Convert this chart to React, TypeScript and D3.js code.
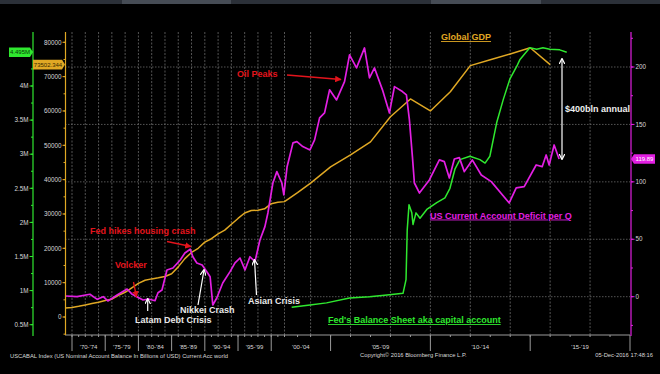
import React from 'react';
import { scaleLinear, line, range } from 'd3';

// Global GDP (bn USD), annual
const gdpYears = [1969, 1970, 1971, 1972, 1973, 1974, 1975, 1976, 1977, 1978, 1979, 1980, 1981, 1982, 1983, 1984, 1985, 1986, 1987, 1988, 1989, 1990, 1991, 1992, 1993, 1994, 1995, 1996, 1997, 1998, 1999, 2000, 2001, 2002, 2003, 2004, 2005, 2006, 2007, 2008, 2009, 2010, 2011, 2012, 2013, 2014, 2015, 2016]
const gdpValues = [2600, 2800, 3100, 3500, 3900, 4300, 4800, 5200, 6300, 7200, 8500, 9800, 10700, 11100, 11400, 11800, 12600, 14600, 17000, 18800, 20000, 21800, 22800, 24200, 25300, 27000, 28700, 30300, 31000, 31100, 31500, 33000, 33400, 33600, 36200, 39000, 43700, 47200, 51000, 58300, 63500, 60000, 65600, 73200, 74900, 76600, 78400, 73502]

// US current account deficit per quarter (bn USD)
const cadDates = [1969.1, 1970.75, 1972.7, 1973.8, 1974.7, 1975.4, 1976.8, 1978.3, 1979.0, 1979.9, 1980.7, 1981.5, 1982.5, 1982.95, 1983.55, 1984.3, 1985.2, 1986.3, 1987.0, 1987.8, 1988.2, 1988.8, 1989.6, 1990.3, 1990.8, 1991.2, 1991.8, 1992.7, 1993.8, 1994.55, 1995.3, 1996.05, 1996.8, 1997.55, 1998.3, 1999.05, 1999.5, 2000.25, 2000.85, 2001.6, 2001.9, 2002.2, 2002.65, 2002.95, 2003.4, 2003.95, 2004.2, 2004.45, 2004.7, 2004.95, 2005.3, 2005.7, 2005.95, 2006.3, 2006.7, 2006.95, 2007.2, 2007.6, 2007.95, 2008.2, 2008.6, 2008.8, 2008.95, 2009.1, 2009.2, 2009.45, 2009.95, 2010.45, 2010.7, 2010.95, 2011.2, 2011.45, 2011.7, 2012.1, 2012.55, 2013.05, 2013.95, 2014.3, 2014.7, 2015.3, 2015.6, 2015.8, 2015.95, 2016.2, 2016.45]
const cadValues = [0.6, 0, 2.1, -2.3, 0, -3.7, 1.5, 6.7, 2.4, -0.5, -2.9, -2.0, -3.5, 3.5, 5.8, 23.3, 25.0, 32.0, 38.1, 41.3, 34.8, 29.4, 27.6, 21.8, 17.4, -7.2, -1.1, 11.9, 21.8, 29.4, 33.7, 23.3, 34.8, 30.5, 49.4, 61.0, 72.9, 99.0, 108.9, 99.0, 88.6, 113.2, 133.9, 135.0, 130.7, 127.8, 136.5, 155.7, 160.0, 180.1, 171.3, 187.3, 210.5, 199.2, 216.6, 190.5, 199.2, 180.1, 160.0, 182.9, 178.6, 175.7, 153.9, 122.0, 99.0, 90.3, 101.7, 119.1, 117.6, 103.4, 119.9, 121.1, 108.9, 119.1, 106.0, 100.2, 81.6, 94.7, 95.8, 114.7, 113.2, 123.4, 114.7, 132.1, 119.89]

// Fed balance sheet (M of USD, i.e. trillions)
const fedDates = [2002.55, 2003.95, 2004.8, 2005.95, 2006.95, 2007.95, 2008.63, 2008.78, 2008.84, 2008.93, 2009.07, 2009.13, 2009.28, 2009.48, 2009.82, 2010.32, 2010.73, 2010.98, 2011.23, 2011.48, 2011.98, 2012.48, 2012.74, 2012.98, 2013.32, 2013.65, 2013.98, 2014.33, 2014.49, 2014.98, 2015.33, 2015.64, 2015.98, 2016.48, 2016.83]
const fedValues = [0.756, 0.79, 0.82, 0.89, 0.91, 0.94, 0.96, 1.16, 1.89, 2.26, 2.14, 1.97, 2.14, 2.06, 2.19, 2.29, 2.36, 2.5, 2.78, 2.92, 2.97, 2.92, 2.87, 2.97, 3.46, 3.8, 4.1, 4.29, 4.39, 4.56, 4.54, 4.56, 4.54, 4.53, 4.495]

const periodLabels = ["'70-'74", "'75-'79", "'80-'84", "'85-'89", "'90-'94", "'95-'99", "'00-'04", "'05-'09", "'10-'14", "'15-'19"]
const periodStarts = [1970, 1975, 1980, 1985, 1990, 1995, 2000, 2005, 2010, 2015]
const gdpTicks = [0, 10000, 20000, 30000, 40000, 50000, 60000, 70000, 80000]
const fedTicks = [0.5, 1, 1.5, 2, 2.5, 3, 3.5, 4]
const fedTickLabels = ['0.5M', '1M', '1.5M', '2M', '2.5M', '3M', '3.5M', '4M']
const cadTicks = [0, 50, 100, 150, 200]

const W = 660
const H = 374
const top = 32
const bottom = 335
const left = 65
const right = 630

const GREEN = '#2fe82f'
const GOLD = '#e0a824'
const MAG = '#e21fe2'
const RED = '#e3141c'
const GRID = '#6a6a6a'
const TXT = '#d8d8d8'
const FONT = '"Liberation Sans", Arial, sans-serif'

export default function App() {
  const x = scaleLinear().domain([1970, 2002, 2004, 2020]).range([72, 284.5, 310.6, 630])
  const yGdp = scaleLinear().domain([0, 80000]).range([317, 42.3])
  const yFed = scaleLinear().domain([0.5, 4]).range([324.7, 86])
  const yCad = scaleLinear().domain([0, 200]).range([296.7, 67])

  const gdpLine = line<number>().x((_, i) => x(gdpYears[i])).y(d => yGdp(d))
  const cadLine = line<number>().x((_, i) => x(cadDates[i])).y(d => yCad(d))
  const fedLine = line<number>().x((_, i) => x(fedDates[i])).y(d => yFed(d))

  const gridYears = range(1970, 2020, 2)
  const minorYears = range(1970, 2020, 1)
  const inPlot = (v: number) => v >= top && v <= bottom

  const lastFed = fedValues[fedValues.length - 1]
  const lastGdp = gdpValues[gdpValues.length - 1]
  const lastCad = cadValues[cadValues.length - 1]
  const fy = yFed(lastFed)
  const gy = yGdp(lastGdp)
  const cy = yCad(lastCad)

  const bold = { fontFamily: FONT, fontWeight: 700, fontSize: 9 } as const

  return (
    <svg width={W} height={H} style={{ position: 'absolute', left: 0, top: 0, background: '#000' }}>
      <defs>
        <marker id="ar" viewBox="0 0 10 10" refX="9" refY="5" markerWidth="5" markerHeight="5" orient="auto-start-reverse">
          <path d="M0,0L10,5L0,10z" fill={RED} />
        </marker>
        <marker id="aw" viewBox="0 0 10 10" refX="9" refY="5" markerWidth="5" markerHeight="5" orient="auto-start-reverse">
          <path d="M0,0L10,5L0,10" fill="none" stroke="#fff" strokeWidth="2" />
        </marker>
      </defs>
      <rect width={W} height={H} fill="#000" />
      {/* window strip */}
      <rect x={0} y={0} width={W} height={4} fill="#2b3038" />
      <rect x={122} y={0} width={109} height={4} fill="#464c55" />
      <rect x={431} y={0} width={110} height={4} fill="#464c55" />

      {/* grid */}
      {gridYears.map(yr => (
        <line key={'vg' + yr} x1={x(yr)} x2={x(yr)} y1={top} y2={bottom} stroke={GRID} strokeWidth={0.8} strokeDasharray="2,1.5" />
      ))}
      {cadTicks.map(t => (
        <line key={'hg' + t} x1={left} x2={right} y1={yCad(t)} y2={yCad(t)} stroke={GRID} strokeWidth={0.8} strokeDasharray="1.5,1.5" />
      ))}

      {/* x axis */}
      <line x1={left} x2={right} y1={bottom} y2={bottom} stroke="#9a9a9a" strokeWidth={1} />
      {minorYears.map(yr => (
        <line key={'mt' + yr} x1={x(yr)} x2={x(yr)} y1={bottom} y2={bottom + 2} stroke="#9a9a9a" />
      ))}
      {periodStarts.concat([2020]).map(yr => (
        <line key={'Mt' + yr} x1={x(yr)} x2={x(yr)} y1={bottom} y2={bottom + 16} stroke="#9a9a9a" />
      ))}
      {periodLabels.map((l, i) => (
        <text key={l} x={(x(periodStarts[i]) + x(periodStarts[i] + 5)) / 2} y={349} textAnchor="middle" fill={TXT} fontSize={6} fontFamily={FONT}>{l}</text>
      ))}

      {/* green axis */}
      <line x1={33} x2={33} y1={top} y2={bottom + 1} stroke={GREEN} strokeWidth={1.2} />
      {range(0.25, 4.75, 0.25).filter(v => inPlot(yFed(v))).map(v => (
        <line key={'fm' + v} x1={31} x2={33} y1={yFed(v)} y2={yFed(v)} stroke={GREEN} />
      ))}
      {fedTicks.map((t, i) => (
        <g key={'ft' + t}>
          <line x1={29.5} x2={33} y1={yFed(t)} y2={yFed(t)} stroke={GREEN} />
          <text x={28.5} y={yFed(t) + 2.2} textAnchor="end" fill={TXT} fontSize={6.3} fontFamily={FONT}>{fedTickLabels[i]}</text>
        </g>
      ))}

      {/* gold axis */}
      <line x1={65.5} x2={65.5} y1={top} y2={bottom} stroke={GOLD} strokeWidth={1.2} />
      {range(-5000, 90000, 5000).filter(v => inPlot(yGdp(v))).map(v => (
        <line key={'gm' + v} x1={63.5} x2={65.5} y1={yGdp(v)} y2={yGdp(v)} stroke={GOLD} />
      ))}
      {gdpTicks.map(t => (
        <g key={'gt' + t}>
          <line x1={62.5} x2={65.5} y1={yGdp(t)} y2={yGdp(t)} stroke={GOLD} />
          <text x={61.5} y={yGdp(t) + 2.2} textAnchor="end" fill={TXT} fontSize={6.3} fontFamily={FONT}>{t}</text>
        </g>
      ))}

      {/* magenta axis */}
      <line x1={631} x2={631} y1={top} y2={bottom + 1} stroke={MAG} strokeWidth={1.2} />
      {range(-25, 250, 25).filter(v => inPlot(yCad(v))).map(v => (
        <line key={'cm' + v} x1={631} x2={633} y1={yCad(v)} y2={yCad(v)} stroke={MAG} />
      ))}
      {cadTicks.map(t => (
        <g key={'ct' + t}>
          <line x1={631} x2={634.5} y1={yCad(t)} y2={yCad(t)} stroke={MAG} />
          <text x={635.5} y={yCad(t) + 2.2} fill={TXT} fontSize={6.3} fontFamily={FONT}>{t}</text>
        </g>
      ))}

      {/* series */}
      <path d={gdpLine(gdpValues) || ''} fill="none" stroke={GOLD} strokeWidth={1.5} strokeLinejoin="round" />
      <path d={fedLine(fedValues) || ''} fill="none" stroke={GREEN} strokeWidth={1.5} strokeLinejoin="round" />
      <path d={cadLine(cadValues) || ''} fill="none" stroke={MAG} strokeWidth={1.7} strokeLinejoin="round" />

      {/* last value tags */}
      <path d={`M9,${fy - 4.8}H30L33,${fy}L30,${fy + 4.8}H9Z`} fill={GREEN} />
      <text x={20} y={fy + 2.2} textAnchor="middle" fill="#083808" fontSize={6} fontFamily={FONT}>4.495M</text>
      <path d={`M33,${gy - 4.8}H62L65,${gy}L62,${gy + 4.8}H33Z`} fill={GOLD} />
      <text x={48} y={gy + 2.2} textAnchor="middle" fill="#3a2800" fontSize={6} fontFamily={FONT}>{lastGdp === 73502 ? '73502.344' : lastGdp}</text>
      <path d={`M631,${cy}L634,${cy - 4.8}H655V${cy + 4.8}H634Z`} fill={MAG} />
      <text x={644.5} y={cy + 2.2} textAnchor="middle" fill="#fff" fontSize={6} fontFamily={FONT}>{lastCad}</text>

      {/* annotations */}
      <text x={441} y={40} fill={GOLD} {...bold} textDecoration="underline">Global GDP</text>
      <text x={237} y={77} fill={RED} {...bold}>Oil Peaks</text>
      <line x1={287} y1={75} x2={341} y2={79.5} stroke={RED} strokeWidth={1.3} markerEnd="url(#ar)" />
      <text x={565} y={112} fill="#eee" {...bold}>$400bln annual</text>
      <line x1={562} y1={59} x2={562} y2={159} stroke="#fff" strokeWidth={1.2} markerStart="url(#aw)" markerEnd="url(#aw)" />
      <text x={430} y={218.5} fill={MAG} {...bold} textDecoration="underline">US Current Account Deficit per Q</text>
      <text x={328} y={323} fill={GREEN} {...bold} textDecoration="underline">Fed's Balance Sheet aka capital account</text>
      <text x={90} y={234} fill={RED} {...bold}>Fed hikes housing crash</text>
      <line x1={167} y1={241.5} x2={191} y2={246.5} stroke={RED} strokeWidth={1.3} markerEnd="url(#ar)" />
      <text x={115} y={268} fill={RED} {...bold}>Volcker</text>
      <line x1={133.5} y1={282} x2={136.5} y2={297} stroke={RED} strokeWidth={1.3} markerEnd="url(#ar)" />
      <text x={135} y={322.5} fill="#e8e8e8" {...bold}>Latam Debt Crisis</text>
      <line x1={147.7} y1={311} x2={147.7} y2={299} stroke="#fff" strokeWidth={1.2} markerEnd="url(#aw)" />
      <text x={180} y={312.5} fill="#e8e8e8" {...bold}>Nikkei Crash</text>
      <line x1={198} y1={305} x2={204} y2={270} stroke="#fff" strokeWidth={1.2} markerEnd="url(#aw)" />
      <text x={248} y={304} fill="#e8e8e8" {...bold}>Asian Crisis</text>
      <line x1={256.5} y1={295} x2={254.5} y2={260} stroke="#fff" strokeWidth={1.2} markerEnd="url(#aw)" />

      {/* footer */}
      <text x={10} y={358} fill={TXT} fontSize={5.8} fontFamily={FONT}>USCABAL Index (US Nominal Account Balance In Billions of USD) Current Acc world</text>
      <text x={360} y={357} fill={TXT} fontSize={5.8} fontFamily={FONT}>Copyright© 2016 Bloomberg Finance L.P.</text>
      <text x={653} y={357} textAnchor="end" fill={TXT} fontSize={5.8} fontFamily={FONT}>05-Dec-2016 17:48:16</text>
    </svg>
  )
}
